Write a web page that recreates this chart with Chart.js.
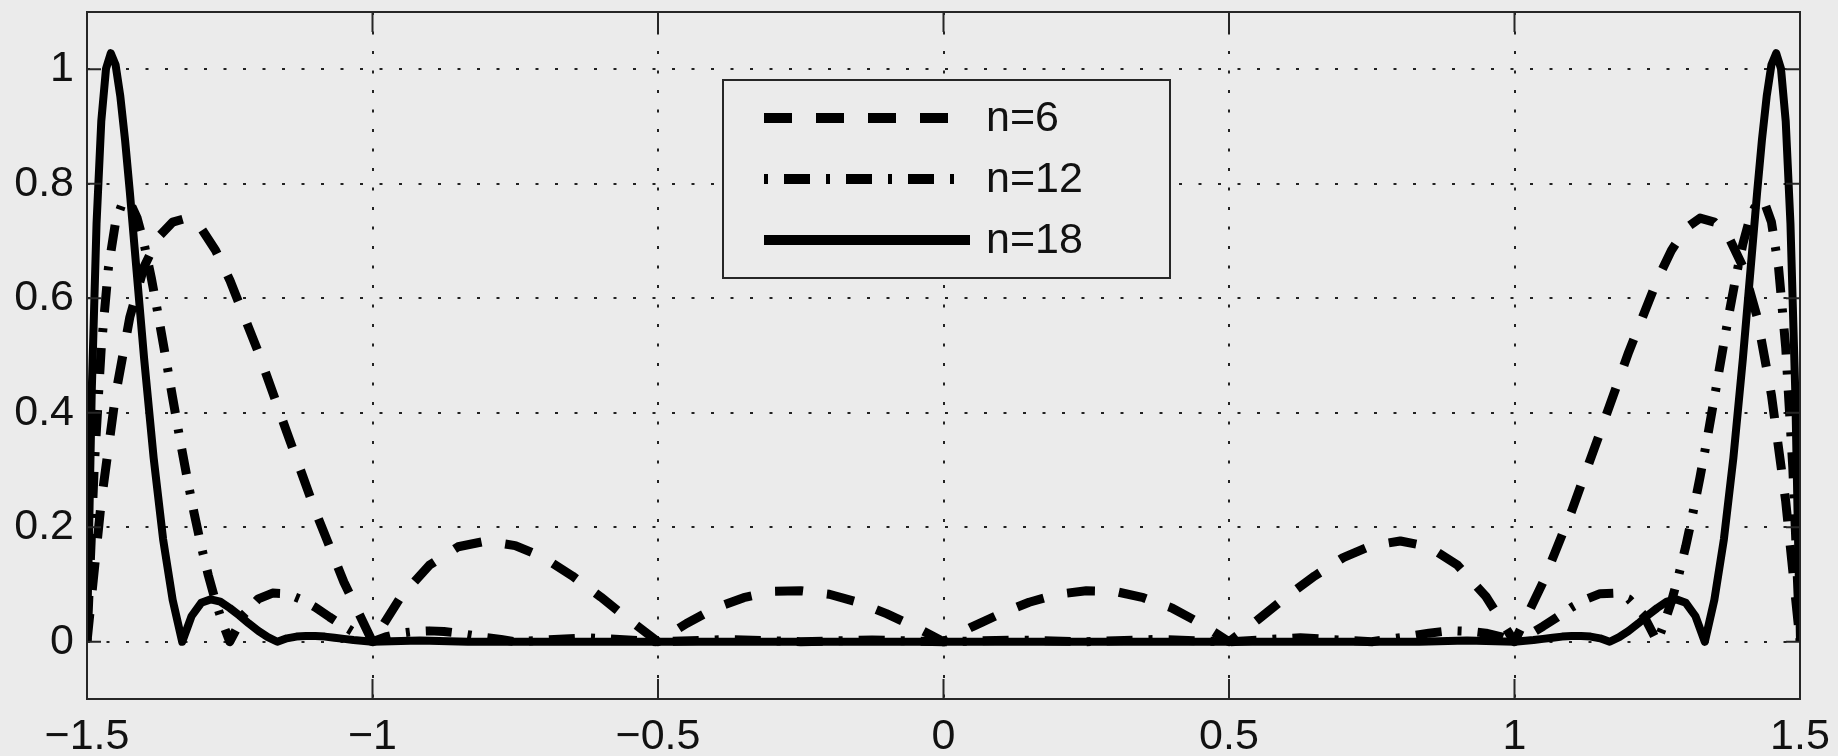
<!DOCTYPE html>
<html>
<head>
<meta charset="utf-8">
<script src="https://cdn.jsdelivr.net/npm/chart.js@4.4.1/dist/chart.umd.min.js"></script>
<style>
  html, body { margin: 0; padding: 0; background: #ebebeb; }
  #chart { display: block; }
</style>
</head>
<body>
<canvas id="chart" width="1838" height="756"></canvas>
<script>
// ── Data ──────────────────────────────────────────────────────────────────
const xTicks = [-1.5, -1, -0.5, 0, 0.5, 1, 1.5];
const xTickLabels = ['−1.5', '−1', '−0.5', '0', '0.5', '1', '1.5'];
const yTicks = [0, 0.2, 0.4, 0.6, 0.8, 1];
const yTickLabels = ['0', '0.2', '0.4', '0.6', '0.8', '1'];
const seriesNames = ['n=6', 'n=12', 'n=18'];

const n6X = [-1.5, -1.475, -1.45, -1.425, -1.4, -1.375, -1.35, -1.325, -1.3, -1.275, -1.25,
  -1.2, -1.15, -1.1, -1.05, -1, -0.95, -0.9, -0.85, -0.8, -0.75, -0.7, -0.65, -0.6, -0.55, -0.5,
  -0.45, -0.4, -0.35, -0.3, -0.25, -0.2, -0.15, -0.1, -0.05, 0,
  0.05, 0.1, 0.15, 0.2, 0.25, 0.3, 0.35, 0.4, 0.45, 0.5, 0.55, 0.6, 0.65, 0.7, 0.75, 0.8, 0.85,
  0.9, 0.95, 1, 1.05, 1.1, 1.15, 1.2, 1.25, 1.275, 1.3, 1.325, 1.35, 1.375, 1.4, 1.425, 1.45, 1.475, 1.5];
const n6Y = [0, 0.245, 0.431, 0.567, 0.655, 0.707, 0.733, 0.740, 0.722, 0.684, 0.632,
  0.506, 0.366, 0.228, 0.104, 0, 0.079, 0.134, 0.166, 0.176, 0.168, 0.147, 0.115, 0.078, 0.038, 0,
  0.032, 0.059, 0.077, 0.088, 0.089, 0.083, 0.069, 0.049, 0.026, 0,
  0.026, 0.049, 0.069, 0.083, 0.089, 0.088, 0.077, 0.059, 0.032, 0, 0.038, 0.078, 0.115, 0.147, 0.168, 0.176, 0.166,
  0.134, 0.079, 0, 0.104, 0.228, 0.366, 0.506, 0.632, 0.684, 0.722, 0.740, 0.733, 0.707, 0.655, 0.567, 0.431, 0.245, 0];

const n12X = [-1.5, -1.4875, -1.475, -1.4625, -1.45, -1.4375, -1.425, -1.4125, -1.4, -1.3875, -1.375,
  -1.3625, -1.35, -1.3375, -1.325, -1.3125, -1.3, -1.2875, -1.275, -1.2625, -1.25,
  -1.225, -1.2, -1.175, -1.15, -1.125, -1.1, -1.075, -1.05, -1.025, -1,
  -0.975, -0.95, -0.925, -0.9, -0.875, -0.85, -0.825, -0.8, -0.775, -0.75,
  -0.625, -0.5, -0.375, -0.25, -0.125, 0, 0.125, 0.25, 0.375, 0.5, 0.625,
  0.75, 0.775, 0.8, 0.825, 0.85, 0.875, 0.9, 0.925, 0.95, 0.975, 1,
  1.025, 1.05, 1.075, 1.1, 1.125, 1.15, 1.175, 1.2, 1.225, 1.25,
  1.2625, 1.275, 1.2875, 1.3, 1.3125, 1.325, 1.3375, 1.35, 1.3625, 1.375,
  1.3875, 1.4, 1.4125, 1.425, 1.4375, 1.45, 1.4625, 1.475, 1.4875, 1.5];
const n12Y = [0, 0.302, 0.514, 0.653, 0.733, 0.768, 0.768, 0.741, 0.695, 0.636, 0.569,
  0.498, 0.426, 0.355, 0.288, 0.225, 0.167, 0.116, 0.071, 0.033, 0,
  0.048, 0.075, 0.085, 0.084, 0.074, 0.060, 0.043, 0.027, 0.012, 0,
  0.009, 0.015, 0.018, 0.019, 0.018, 0.015, 0.011, 0.007, 0.004, 0,
  0.007, 0, 0.004, 0, 0.003, 0, 0.003, 0, 0.004, 0, 0.007,
  0, 0.004, 0.007, 0.011, 0.015, 0.018, 0.019, 0.018, 0.015, 0.009, 0,
  0.012, 0.027, 0.043, 0.060, 0.074, 0.084, 0.085, 0.075, 0.048, 0,
  0.033, 0.071, 0.116, 0.167, 0.225, 0.288, 0.355, 0.426, 0.498, 0.569,
  0.636, 0.695, 0.741, 0.768, 0.768, 0.733, 0.653, 0.514, 0.302, 0];

const n18X = [-1.5, -1.4917, -1.4833, -1.475, -1.4667, -1.4583, -1.45, -1.4417, -1.4333, -1.425,
  -1.4167, -1.4083, -1.4, -1.3833, -1.3667, -1.35, -1.3333,
  -1.3167, -1.3, -1.2833, -1.2667, -1.25, -1.2333, -1.2167, -1.2, -1.1833, -1.1667,
  -1.15, -1.1333, -1.1167, -1.1, -1.0833, -1.0667, -1.05, -1.0333, -1,
  -0.9167, -0.8333, -0.5, 0, 0.5, 0.8333, 0.9167,
  1, 1.0333, 1.05, 1.0667, 1.0833, 1.1, 1.1167, 1.1333, 1.15,
  1.1667, 1.1833, 1.2, 1.2167, 1.2333, 1.25, 1.2667, 1.2833, 1.3, 1.3167,
  1.3333, 1.35, 1.3667, 1.3833, 1.4, 1.4083, 1.4167, 1.425, 1.4333, 1.4417,
  1.45, 1.4583, 1.4667, 1.475, 1.4833, 1.4917, 1.5];
const n18Y = [0, 0.437, 0.730, 0.909, 1.001, 1.028, 1.008, 0.953, 0.876, 0.786,
  0.689, 0.591, 0.495, 0.321, 0.179, 0.073, 0,
  0.045, 0.068, 0.074, 0.070, 0.059, 0.046, 0.032, 0.019, 0.008, 0,
  0.006, 0.009, 0.010, 0.010, 0.009, 0.007, 0.005, 0.003, 0,
  0.002, 0, 0, 0, 0, 0, 0.002,
  0, 0.003, 0.005, 0.007, 0.009, 0.010, 0.010, 0.009, 0.006,
  0, 0.008, 0.019, 0.032, 0.046, 0.059, 0.070, 0.074, 0.068, 0.045,
  0, 0.073, 0.179, 0.321, 0.495, 0.591, 0.689, 0.786, 0.876, 0.953,
  1.008, 1.028, 1.001, 0.909, 0.730, 0.437, 0];

// ── Look ──────────────────────────────────────────────────────────────────
const bgColor   = '#ebebeb';
const inkColor  = '#111111';
const frameColor = '#262626';

const toPoints = (xs, ys) => xs.map((x, i) => ({ x: x, y: ys[i] }));

// frame round the axes, with MATLAB-style inward ticks
const framePlugin = {
    id: 'frame',
    afterDatasetsDraw: (chart) => {
        const { ctx, chartArea: a, scales } = chart;
        ctx.save();
        ctx.setLineDash([]);
        ctx.strokeStyle = frameColor;
        ctx.lineWidth = 2;
        ctx.strokeRect(a.left, a.top, a.right - a.left, a.bottom - a.top);
        ctx.beginPath();
        xTicks.forEach(v => {
            const px = scales.x.getPixelForValue(v);
            ctx.moveTo(px, a.bottom); ctx.lineTo(px, a.bottom - 20);
            ctx.moveTo(px, a.top);    ctx.lineTo(px, a.top + 20);
        });
        yTicks.forEach(v => {
            const py = scales.y.getPixelForValue(v);
            ctx.moveTo(a.left, py);  ctx.lineTo(a.left + 14, py);
            ctx.moveTo(a.right, py); ctx.lineTo(a.right - 14, py);
        });
        ctx.stroke();
        ctx.restore();
    }
};

// boxed legend sitting inside the plot
const boxLegendPlugin = {
    id: 'boxLegend',
    afterDraw: (chart) => {
        const ctx = chart.ctx;
        const box = { left: 723, top: 80, right: 1170, bottom: 278 };
        const rows = [118, 179, 240];
        ctx.save();
        ctx.fillStyle = bgColor;
        ctx.fillRect(box.left, box.top, box.right - box.left, box.bottom - box.top);
        ctx.strokeStyle = frameColor;
        ctx.lineWidth = 2;
        ctx.setLineDash([]);
        ctx.strokeRect(box.left, box.top, box.right - box.left, box.bottom - box.top);

        chart.data.datasets.forEach((ds, i) => {
            ctx.save();
            ctx.strokeStyle = ds.borderColor;
            ctx.lineWidth = 10;
            ctx.lineCap = 'butt';
            ctx.setLineDash(ds.borderDash || []);
            ctx.beginPath();
            ctx.moveTo(764, rows[i]);
            ctx.lineTo(970, rows[i]);
            ctx.stroke();
            ctx.restore();

            ctx.fillStyle = inkColor;
            ctx.font = "43px 'Liberation Sans', Arial, sans-serif";
            ctx.textAlign = 'left';
            ctx.textBaseline = 'middle';
            ctx.fillText(ds.label, 986, rows[i] + 1);
        });
        ctx.restore();
    }
};

Chart.defaults.font.family = "'Liberation Sans', Arial, sans-serif";
Chart.defaults.font.size = 43;
Chart.defaults.color = inkColor;

new Chart(document.getElementById('chart'), {
    type: 'line',
    data: {
        datasets: [
            {
                label: seriesNames[0],
                data: toPoints(n6X, n6Y),
                borderColor: '#000',
                borderWidth: 9,
                borderDash: [28, 24],
                order: 3
            },
            {
                label: seriesNames[1],
                data: toPoints(n12X, n12Y),
                borderColor: '#000',
                borderWidth: 9,
                borderDash: [4, 16, 26, 16],
                order: 2
            },
            {
                label: seriesNames[2],
                data: toPoints(n18X, n18Y),
                borderColor: '#000',
                borderWidth: 8,
                order: 1
            }
        ]
    },
    options: {
        responsive: false,
        animation: false,
        devicePixelRatio: 1,
        layout: { padding: { top: 12, right: 38, left: 0, bottom: 0 } },
        elements: {
            point: { radius: 0, hoverRadius: 0 },
            line: { tension: 0, fill: false, borderJoinStyle: 'round' }
        },
        plugins: {
            legend: { display: false },
            tooltip: { enabled: false }
        },
        scales: {
            x: {
                type: 'linear',
                min: -1.5,
                max: 1.5,
                afterBuildTicks: (scale) => { scale.ticks = xTicks.map(v => ({ value: v })); },
                afterFit: (scale) => {
                    scale.height = 57;
                    scale.paddingLeft = 0;
                    scale.paddingRight = 0;
                },
                ticks: {
                    autoSkip: false,
                    maxRotation: 0,
                    padding: 12,
                    callback: (value, index) => xTickLabels[index]
                },
                grid: { color: '#222', lineWidth: 2, drawTicks: false },
                border: { display: false, dash: [3, 16.5] }
            },
            y: {
                type: 'linear',
                min: -0.1,
                max: 1.1,
                afterBuildTicks: (scale) => { scale.ticks = yTicks.map(v => ({ value: v })); },
                afterFit: (scale) => {
                    scale.width = 87;
                    scale.paddingTop = 0;
                    scale.paddingBottom = 0;
                },
                ticks: {
                    padding: 13,
                    callback: (value, index) => yTickLabels[index]
                },
                grid: { color: '#222', lineWidth: 2, drawTicks: false },
                border: { display: false, dash: [3, 16.5] }
            }
        }
    },
    plugins: [framePlugin, boxLegendPlugin]
});
</script>
</body>
</html>
